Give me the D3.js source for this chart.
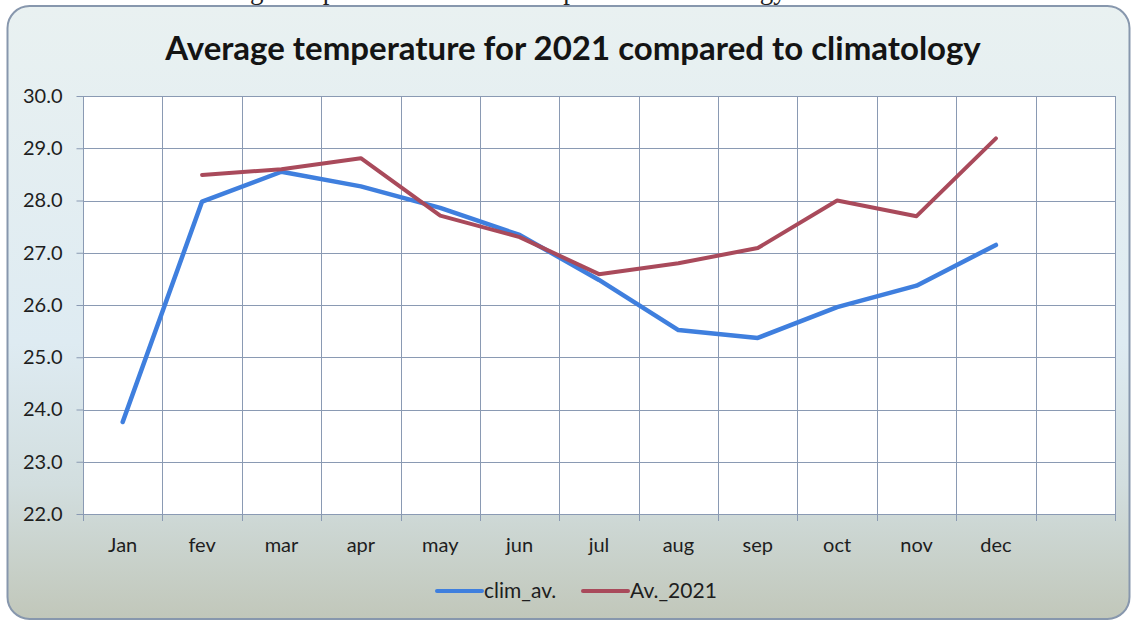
<!DOCTYPE html>
<html>
<head>
<meta charset="utf-8">
<script src="https://cdn.jsdelivr.net/npm/d3@7"></script>
<style>
  body { margin: 0; background: #fff; }
  svg { display: block; }
  text { font-family: Lato, "Open Sans", sans-serif; }
</style>
</head>
<body>
<script>
// data
var categories = ["Jan", "fev", "mar", "apr", "may", "jun", "jul", "aug", "sep", "oct", "nov", "dec", ""];
var climAv = [23.76, 27.98, 28.55, 28.27, 27.86, 27.34, 26.48, 25.52, 25.37, 25.96, 26.37, 27.15];
var av2021 = [null, 28.49, 28.6, 28.81, 27.71, 27.3, 26.59, 26.8, 27.09, 28.0, 27.7, 29.19];
var yTicks = [22, 23, 24, 25, 26, 27, 28, 29, 30];
var seriesNames = ["clim_av.", "Av._2021"];
var seriesColors = ["#3f7fde", "#a94a5b"];

var W = 1131, H = 621;
var margin = {top: 96, right: 16, bottom: 107, left: 83},
    width = W - margin.left - margin.right,
    height = H - margin.top - margin.bottom;

var svg = d3.select("body").append("svg")
    .attr("width", W)
    .attr("height", H);

// background gradient of the panel
var grad = svg.append("defs").append("linearGradient")
    .attr("id", "bg")
    .attr("x1", 0).attr("y1", 0).attr("x2", 0).attr("y2", 1);
grad.append("stop").attr("offset", "0%").attr("stop-color", "#e9f1f1");
grad.append("stop").attr("offset", "55%").attr("stop-color", "#deebf2");
grad.append("stop").attr("offset", "78%").attr("stop-color", "#d2dedf");
grad.append("stop").attr("offset", "100%").attr("stop-color", "#c1c7ba");

// caption of the document, cut by the top of the picture (as in the source)
svg.append("text")
    .attr("x", 186)
    .attr("y", -1)
    .style("font-family", "'Liberation Serif', serif")
    .style("font-size", "27px")
    .style("fill", "#222")
    .text("Average temperature for 2021 compared to climatology");

svg.append("rect")
    .attr("x", 7.5).attr("y", 6)
    .attr("width", 1122).attr("height", 613)
    .attr("rx", 22).attr("ry", 22)
    .attr("fill", "url(#bg)")
    .attr("stroke", "#8797ad")
    .attr("stroke-width", 2);

svg.append("text")
    .attr("x", 573)
    .attr("y", 60)
    .attr("text-anchor", "middle")
    .style("font-weight", "bold")
    .style("font-size", "33px")
    .style("fill", "#141414")
    .text("Average temperature for 2021 compared to climatology");

var g = svg.append("g")
    .attr("transform", "translate(" + margin.left + "," + margin.top + ")");

var x = d3.scaleBand().domain(categories).range([0, width]);
var y = d3.scaleLinear().domain([22, 30]).range([height, 0]);

g.append("rect")
    .attr("width", width).attr("height", height)
    .attr("fill", "#fff");

// horizontal grid
g.append("g").selectAll("line")
    .data(yTicks)
    .enter().append("line")
    .attr("x1", 0).attr("x2", width)
    .attr("y1", function(d) { return Math.round(y(d)) + 0.5; })
    .attr("y2", function(d) { return Math.round(y(d)) + 0.5; })
    .attr("stroke", "#8a9ab3");

// vertical grid on the category borders
var borders = categories.map(function(c) { return x(c) + x.bandwidth(); });
g.append("g").selectAll("line")
    .data(borders)
    .enter().append("line")
    .attr("x1", function(d) { return Math.round(d) + 0.5; })
    .attr("x2", function(d) { return Math.round(d) + 0.5; })
    .attr("y1", 0).attr("y2", height + 7)
    .attr("stroke", "#8a9ab3");

// y axis
var yAxis = d3.axisLeft(y)
    .tickValues(yTicks)
    .tickFormat(d3.format(".1f"))
    .tickSize(7)
    .tickPadding(14);
var yAxisG = g.append("g").attr("transform", "translate(0.5,0)").call(yAxis);
yAxisG.select(".domain").attr("stroke", "#8a9ab3").attr("d", "M0," + height + "V0");
yAxisG.selectAll(".tick line").attr("stroke", "#8a9ab3");
yAxisG.selectAll(".tick text")
    .style("font-size", "20px")
    .style("font-family", "Lato, sans-serif")
    .style("fill", "#1e1e1e");

// x axis: line, ticks and labels
g.append("line")
    .attr("x1", 0).attr("x2", width)
    .attr("y1", height + 0.5).attr("y2", height + 0.5)
    .attr("stroke", "#8a9ab3");
g.append("line")
    .attr("x1", 0.5).attr("x2", 0.5)
    .attr("y1", height).attr("y2", height + 7)
    .attr("stroke", "#8a9ab3");
g.append("g").selectAll("text")
    .data(categories)
    .enter().append("text")
    .attr("x", function(d) { return x(d) + x.bandwidth() / 2; })
    .attr("y", height + 38)
    .attr("text-anchor", "middle")
    .style("font-size", "20px")
    .style("fill", "#1e1e1e")
    .text(function(d) { return d; });

// series lines
var line = d3.line()
    .defined(function(d) { return d.v != null; })
    .x(function(d) { return x(d.c) + x.bandwidth() / 2; })
    .y(function(d) { return y(d.v); });

var series = [climAv, av2021].map(function(vals) {
    return vals.map(function(v, i) { return {c: categories[i], v: v}; });
});

g.selectAll(".serie")
    .data(series)
    .enter().append("path")
    .attr("class", "serie")
    .attr("d", line)
    .attr("fill", "none")
    .attr("stroke", function(d, i) { return seriesColors[i]; })
    .attr("stroke-width", function(d, i) { return i == 0 ? 4.5 : 4; })
    .attr("stroke-linejoin", "round")
    .attr("stroke-linecap", "round");

// legend
var legendPos = [437, 583];
var legend = svg.append("g").selectAll("g")
    .data(seriesNames)
    .enter().append("g")
    .attr("transform", function(d, i) { return "translate(" + legendPos[i] + ",591)"; });
legend.append("line")
    .attr("x1", 0).attr("x2", 45)
    .attr("stroke", function(d, i) { return seriesColors[i]; })
    .attr("stroke-width", 4)
    .attr("stroke-linecap", "round");
legend.append("text")
    .attr("x", 47)
    .attr("y", 7)
    .style("font-size", "21px")
    .style("fill", "#1e1e1e")
    .text(function(d) { return d; });
</script>
</body>
</html>
